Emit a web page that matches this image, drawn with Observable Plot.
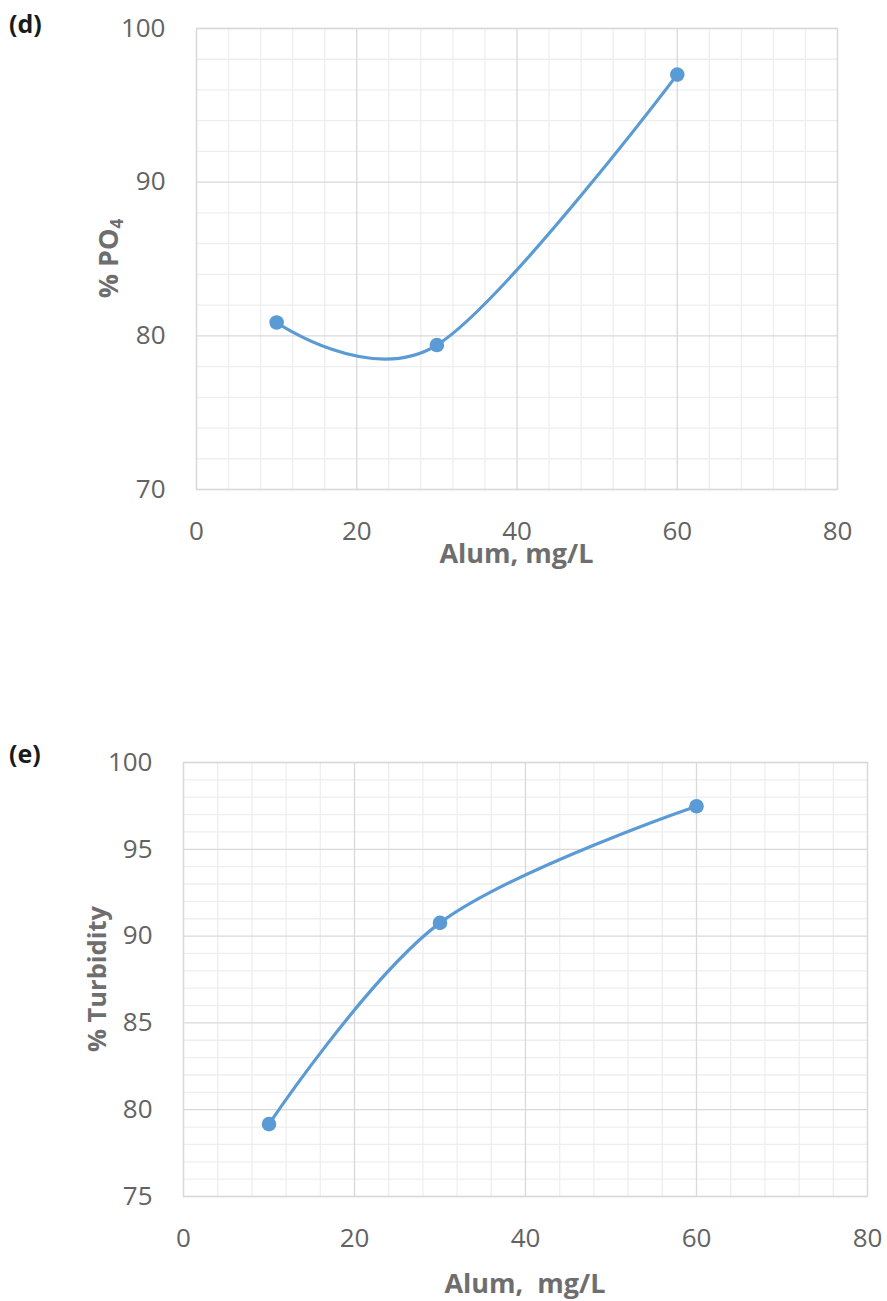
<!DOCTYPE html>
<html><head><meta charset="utf-8">
<script src="https://cdn.jsdelivr.net/npm/d3@7"></script>
<script src="https://cdn.jsdelivr.net/npm/@observablehq/plot@0.6"></script>
<style>
body{margin:0;background:#fff}
#wrap{position:relative;width:887px;height:1301px;overflow:hidden}
#wrap svg{position:absolute;left:0;display:block}
</style>
</head><body><div id="wrap"></div>
<script>
// ---- data ----
const alum = [10, 30, 60];                      // Alum dose, mg/L
const po4Removal = [80.87, 79.4, 97.0];         // % PO4
const turbidityRemoval = [79.17, 90.76, 97.48]; // % Turbidity
const xTicks = [0, 20, 40, 60, 80];
const po4Ticks = [70, 80, 90, 100];
const turbTicks = [75, 80, 85, 90, 95, 100];
const xMinorStep = 4;
const po4MinorStep = 2;
const turbMinorStep = 1;

const FONT = "'Open Sans', 'Noto Sans', sans-serif";
const TICK_COLOR = "#636363";
const TITLE_COLOR = "#6e6e6e";
const LINE_COLOR = "#5b9bd5";

function makeChart(o) {
  const data = alum.map((a, i) => ({x: a, y: o.values[i]}));
  const xMinor = d3.range(xTicks[0], xTicks[xTicks.length - 1] + 1e-9, xMinorStep).filter(v => !xTicks.includes(v));
  const yMinor = d3.range(o.yTicks[0], o.yTicks[o.yTicks.length - 1] + 1e-9, o.minorStep).filter(v => !o.yTicks.includes(v));
  const svg = Plot.plot({
    width: 887,
    height: o.height,
    marginLeft: o.ml, marginRight: o.mr, marginTop: o.mt, marginBottom: o.mb,
    style: {fontFamily: FONT, fontSize: "26px", background: "white", color: TICK_COLOR, overflow: "visible"},
    x: {domain: [xTicks[0], xTicks[xTicks.length - 1]]},
    y: {domain: [o.yTicks[0], o.yTicks[o.yTicks.length - 1]]},
    marks: [
      Plot.ruleX(xMinor, {stroke: "#eeeeee", strokeWidth: 1.3}),
      Plot.ruleY(yMinor, {stroke: "#eeeeee", strokeWidth: 1.3}),
      Plot.ruleX(xTicks, {stroke: "#d9d9d9", strokeWidth: 1.3}),
      Plot.ruleY(o.yTicks, {stroke: "#d9d9d9", strokeWidth: 1.3}),
      Plot.frame({stroke: "#d9d9d9", strokeWidth: 1.3}),
      Plot.axisX(xTicks, {tickSize: 0, tickPadding: 32, label: null, fill: TICK_COLOR, fontSize: 26}),
      Plot.axisY(o.yTicks, {tickSize: 0, tickPadding: 31, label: null, fill: TICK_COLOR, fontSize: 26}),
      Plot.line(data, {x: "x", y: "y", curve: "cardinal", stroke: LINE_COLOR, strokeWidth: 3.2}),
      Plot.dot(data, {x: "x", y: "y", r: 7.3, fill: LINE_COLOR, stroke: "none"})
    ]
  });
  svg.style.top = o.top + "px";
  const s = d3.select(svg);
  // panel label
  s.append("text").attr("x", 9).attr("y", o.panelY).attr("text-anchor", "start")
    .attr("font-family", FONT).attr("font-weight", "bold").attr("font-size", 25).attr("fill", "#1a1a1a")
    .text(o.panel);
  // x title
  const cx = o.ml + (887 - o.ml - o.mr) / 2;
  s.append("text").attr("x", cx).attr("y", o.xTitleY).attr("text-anchor", "middle")
    .attr("font-family", FONT).attr("font-weight", "bold").attr("font-size", 27).attr("fill", TITLE_COLOR)
    .attr("xml:space", "preserve").text(o.xTitle);
  // y title
  const cy = o.mt + (o.height - o.mt - o.mb) / 2;
  const yt = s.append("text").attr("transform", `translate(${o.yTitleX},${cy}) rotate(-90)`).attr("text-anchor", "middle")
    .attr("font-family", FONT).attr("font-weight", "bold").attr("font-size", o.yTitleSize).attr("fill", TITLE_COLOR);
  yt.append("tspan").text(o.yTitle);
  if (o.yTitleSub) yt.append("tspan").attr("font-size", 17).attr("dy", 5).text(o.yTitleSub);
  return svg;
}

const wrap = document.getElementById("wrap");
wrap.appendChild(makeChart({
  values: po4Removal, yTicks: po4Ticks, minorStep: po4MinorStep,
  top: 0, height: 650, ml: 196, mr: 50, mt: 28, mb: 161,
  panel: "(d)", panelY: 33, xTitle: "Alum, mg/L", xTitleY: 563,
  yTitle: "% PO", yTitleSub: "4", yTitleX: 118, yTitleSize: 27
}));
wrap.appendChild(makeChart({
  values: turbidityRemoval, yTicks: turbTicks, minorStep: turbMinorStep,
  top: 650, height: 651, ml: 183, mr: 20, mt: 112, mb: 105,
  panel: "(e)", panelY: 113, xTitle: "Alum,  mg/L", xTitleY: 643,
  yTitle: "% Turbidity", yTitleX: 106, yTitleSize: 25.5
}));
</script>
</body></html>
